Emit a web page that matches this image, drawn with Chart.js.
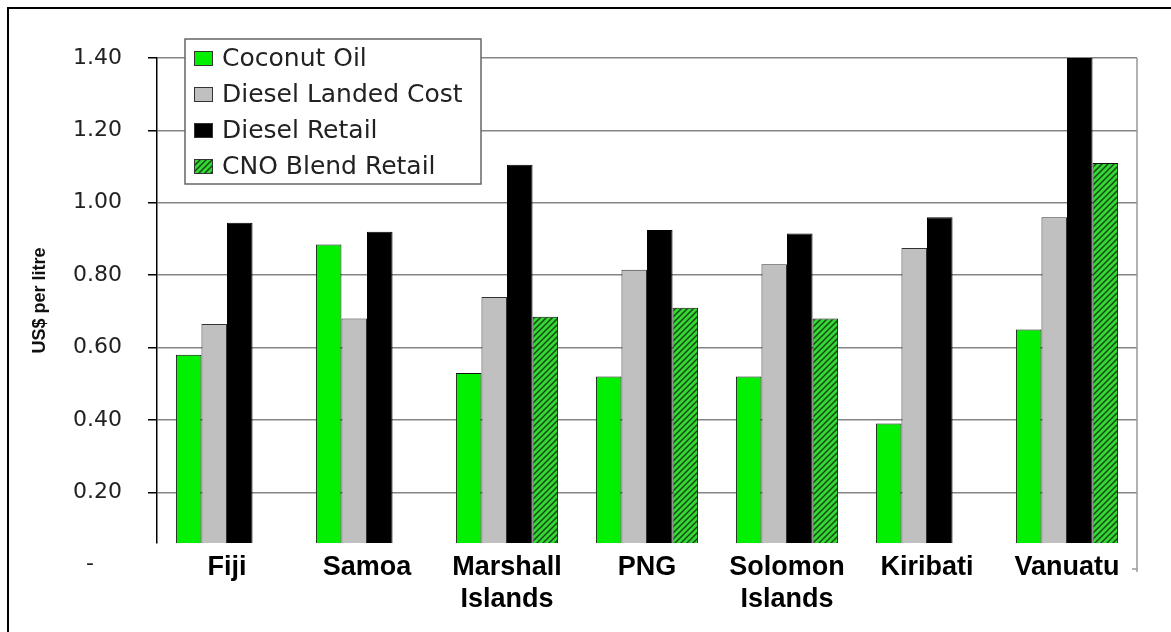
<!DOCTYPE html>
<html>
<head>
<meta charset="utf-8">
<script src="https://cdn.jsdelivr.net/npm/chart.js@4.4.0/dist/chart.umd.min.js"></script>
<style>
html, body { margin: 0; padding: 0; background: #fff; }
#wrap { position: relative; width: 1171px; height: 632px; }
</style>
</head>
<body>
<div id="wrap"><canvas id="priceChart"></canvas></div>
<script>
// Values (US$ per litre)
var countries = ['Fiji', 'Samoa', ['Marshall', 'Islands'], 'PNG', ['Solomon', 'Islands'], 'Kiribati', 'Vanuatu'];
var coconutOil = [0.58, 0.885, 0.53, 0.52, 0.52, 0.39, 0.65];
var dieselLanded = [0.665, 0.68, 0.74, 0.815, 0.83, 0.875, 0.96];
var dieselRetail = [0.945, 0.92, 1.105, 0.925, 0.915, 0.96, 1.40];
var cnoBlend = [null, null, 0.685, 0.71, 0.68, null, 1.11];
var yTicks = [0, 0.2, 0.4, 0.6, 0.8, 1.0, 1.2, 1.4];
var seriesNames = ['Coconut Oil', 'Diesel Landed Cost', 'Diesel Retail', 'CNO Blend Retail'];

var canvas = document.getElementById('priceChart');
var ctx = canvas.getContext('2d');

// Diagonal green hatch for the blend bars
function makeHatch() {
    var c = document.createElement('canvas');
    c.width = 6;
    c.height = 6;
    var g = c.getContext('2d');
    g.fillStyle = '#36d836';
    g.fillRect(0, 0, 6, 6);
    g.strokeStyle = '#124a12';
    g.lineWidth = 1.5;
    g.beginPath();
    g.moveTo(0, 6); g.lineTo(6, 0);
    g.moveTo(-3, 3); g.lineTo(3, -3);
    g.moveTo(3, 9); g.lineTo(9, 3);
    g.stroke();
    return ctx.createPattern(c, 'repeat');
}
var hatch = makeHatch();

// Frame, right border line and the boxed legend
var decorations = {
    id: 'decorations',
    beforeDraw: function(chart) {
        var c = chart.ctx;
        c.save();
        c.fillStyle = '#fff';
        c.fillRect(0, 0, chart.width, chart.height);
        c.strokeStyle = '#000';
        c.lineWidth = 2;
        c.beginPath();
        c.moveTo(8, chart.height);
        c.lineTo(8, 8);
        c.lineTo(chart.width, 8);
        c.stroke();
        c.restore();
    },
    afterDraw: function(chart) {
        var c = chart.ctx;
        var area = chart.chartArea;
        c.save();
        // plot right edge runs a little below the bars
        c.strokeStyle = '#999';
        c.lineWidth = 1.5;
        c.beginPath();
        c.moveTo(area.right, area.top);
        c.lineTo(area.right, area.bottom + 29);
        c.moveTo(area.right - 5, area.bottom + 26);
        c.lineTo(area.right, area.bottom + 26);
        c.stroke();

        // legend box
        var x = area.left + 28, y = area.top - 19, w = 296, h = 145;
        c.fillStyle = '#fff';
        c.fillRect(x, y, w, h);
        c.strokeStyle = '#666';
        c.lineWidth = 1.5;
        c.strokeRect(x, y, w, h);
        c.font = '25px "DejaVu Sans"';
        c.textBaseline = 'middle';
        chart.data.datasets.forEach(function(ds, i) {
            var cy = y + 19 + i * 36;
            c.fillStyle = ds.backgroundColor;
            c.fillRect(x + 9, cy - 7, 18, 14);
            c.strokeStyle = '#333';
            c.lineWidth = 1;
            c.strokeRect(x + 9.5, cy - 6.5, 18, 14);
            c.fillStyle = '#222';
            c.fillText(ds.label, x + 37, cy + 1);
        });
        c.restore();
    }
};

new Chart(ctx, {
    type: 'bar',
    data: {
        labels: countries,
        datasets: [
            { label: seriesNames[0], data: coconutOil, backgroundColor: '#00f000', borderColor: '#111', borderWidth: 1 },
            { label: seriesNames[1], data: dieselLanded, backgroundColor: '#c0c0c0', borderColor: '#333', borderWidth: 1 },
            { label: seriesNames[2], data: dieselRetail, backgroundColor: '#000', borderColor: '#000', borderWidth: 1 },
            { label: seriesNames[3], data: cnoBlend, backgroundColor: hatch, borderColor: '#111', borderWidth: 1 }
        ]
    },
    options: {
        responsive: true,
        maintainAspectRatio: false,
        animation: false,
        layout: { padding: { top: 58, right: 34, left: 0, bottom: 0 } },
        datasets: {
            bar: { categoryPercentage: 0.73, barPercentage: 1.0 }
        },
        plugins: {
            legend: { display: false },
            tooltip: { enabled: false }
        },
        scales: {
            x: {
                grid: { display: false, drawTicks: false },
                border: { display: false },
                ticks: {
                    color: '#000',
                    padding: 8,
                    maxRotation: 0,
                    autoSkip: false,
                    font: { family: '"Liberation Sans", Arial', size: 27, weight: 'bold' }
                },
                afterFit: function(scale) { scale.height = 89; }
            },
            y: {
                min: 0.06,
                max: 1.4,
                afterBuildTicks: function(scale) {
                    scale.ticks = yTicks.map(function(v) { return { value: v }; });
                },
                grid: {
                    color: function(c) { return c.tick && c.tick.value === 0 ? 'rgba(0,0,0,0)' : '#858585'; },
                    tickColor: function(c) { return c.tick && c.tick.value === 0 ? 'rgba(0,0,0,0)' : '#000'; },
                    lineWidth: 1.5,
                    tickLength: 9
                },
                border: { display: true, color: '#000', width: 1.5 },
                ticks: {
                    color: '#222',
                    padding: 26,
                    font: { family: '"DejaVu Sans"', size: 22 },
                    callback: function(v) { return v === 0 ? '-\u2007\u2007' : v.toFixed(2); }
                },
                title: {
                    display: true,
                    text: 'US$ per litre',
                    color: '#111',
                    padding: { top: 29, bottom: 0 },
                    font: { family: '"Liberation Sans", Arial', size: 18, weight: 'bold' }
                },
                afterFit: function(scale) { scale.width = 157; }
            }
        }
    },
    plugins: [decorations]
});
</script>
</body>
</html>
